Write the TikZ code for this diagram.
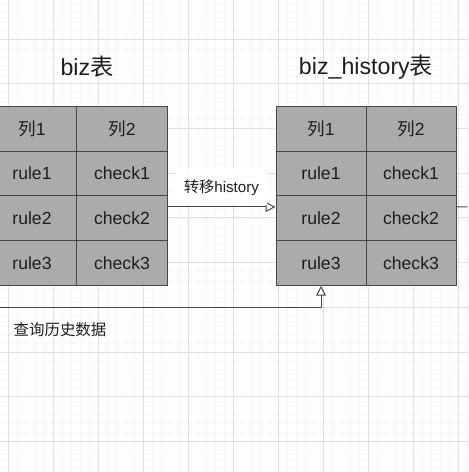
\documentclass[tikz,border=0pt]{standalone}
\usepackage{fontspec}
\setmainfont{Liberation Sans}
\newfontfamily\cjk{Noto Sans CJK SC}
\usetikzlibrary{arrows.meta,calc}
\definecolor{cellgray}{HTML}{ABABAB}
\definecolor{linegray}{HTML}{474747}
\definecolor{textgray}{HTML}{1E1E1E}
\newcommand{\lie}[1]{{\cjk 列}#1}
\tikzset{
  cell/.style={draw=linegray, line width=0.7pt, fill=cellgray, text=textgray, minimum width=2.25cm, minimum height=1.12cm, inner sep=0pt, font=\fontsize{12.5}{15}\selectfont},
  tbltitle/.style={text=textgray, font=\fontsize{16.5}{20}\selectfont},
  link/.style={draw=linegray, line width=0.7pt, -{Triangle[open, length=7pt, width=7pt]}}
}
\begin{document}
\begin{tikzpicture}[x=0.025cm, y=-0.025cm]
\useasboundingbox (0,0) rectangle (468,472);
\clip (0,0) rectangle (468,472);
% background grid
\foreach \gx in {-1,...,51} \draw[gray!7, line width=0.3pt] ({8+9*\gx},0) -- ({8+9*\gx},472);
\foreach \gy in {-5,...,49} \draw[gray!7, line width=0.3pt] (0,{39+8.94*\gy}) -- (468,{39+8.94*\gy});
\foreach \gx in {0,...,10} \draw[gray!25, line width=0.5pt] ({8+45*\gx},0) -- ({8+45*\gx},472);
\foreach \gy in {-1,...,10} \draw[gray!25, line width=0.5pt] (0,{39+44.7*\gy}) -- (468,{39+44.7*\gy});

% tables
\node[tbltitle] (bizTitle) at (87,67) {biz{\cjk 表}};
\node[tbltitle] (histTitle) at (366,67) {biz\_history{\cjk 表}};
\foreach \a/\b [count=\i] in {\lie{1}/\lie{2}, rule1/check1, rule2/check2, rule3/check3} {
  \node[cell] (l\i1) at (32,{83.9+44.75*\i}) {\a};
  \node[cell] (l\i2) at (122,{83.9+44.75*\i}) {\b};
  \node[cell] (r\i1) at (321,{83.9+44.75*\i}) {\a};
  \node[cell] (r\i2) at (411,{83.9+44.75*\i}) {\b};
}

% connectors
\draw[link] ([yshift=0.28cm]l32.east) -- node[midway, above, yshift=0.8pt, fill=white, minimum height=0.9cm, minimum width=2.25cm, inner sep=0pt, text=textgray, font=\fontsize{10.8}{13}\selectfont] (moveLabel) {{\cjk 转移}history} ([yshift=0.28cm]r31.west);
\coordinate (exitR) at (468,207);
\draw[linegray, line width=0.7pt] ([yshift=0.28cm]r32.east) -- (exitR);
\coordinate (queryStart) at (0,307);
\draw[link] (queryStart) -| (r41.south);
\node[text=textgray, font=\fontsize{11}{13}\selectfont] (queryLabel) at (60,330) {\cjk 查询历史数据};
\end{tikzpicture}
\end{document}
